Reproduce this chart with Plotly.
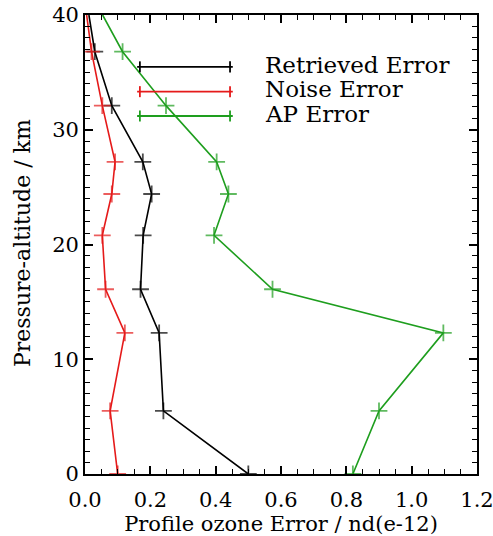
import plotly.graph_objects as go

altitude = [0.0, 5.5, 12.3, 16.1, 20.8, 24.4, 27.2, 32.1, 36.8, 40.0]
retrieved_error = [0.50, 0.24, 0.227, 0.17, 0.178, 0.204, 0.177, 0.082, 0.03, 0.012]
noise_error = [0.10, 0.077, 0.122, 0.063, 0.053, 0.082, 0.092, 0.053, 0.02, 0.005]
ap_error = [0.82, 0.90, 1.097, 0.574, 0.395, 0.439, 0.403, 0.248, 0.115, 0.054]

series_names = ["Retrieved Error", "Noise Error", "AP Error"]
series_values = [retrieved_error, noise_error, ap_error]
colors = ["#000000", "#e51a1a", "#1e9e1e"]

FONT = "DejaVu Serif"
TXT = "#000000"
msizes = [12] * (len(altitude) - 1) + [0]

fig = go.Figure()
for name, vals, c in zip(series_names, series_values, colors):
    fig.add_trace(go.Scatter(
        x=vals, y=altitude, mode="lines+markers", name=name,
        line=dict(color=c, width=1.6),
        marker=dict(symbol="cross-thin", size=msizes, line=dict(color=c, width=1.8)),
        showlegend=False, cliponaxis=True, hoverinfo="skip",
    ))

# custom legend (line with crosses at each end + text)
rows = [0.887, 0.833, 0.780]
x0, x1 = 0.133, 0.377
cx = [0.140, 0.370]
hh = 0.012
for name, c, yr in zip(series_names, colors, rows):
    fig.add_shape(type="line", xref="paper", yref="paper", x0=x0, x1=x1, y0=yr, y1=yr,
                  line=dict(color=c, width=1.8))
    for xc in cx:
        fig.add_shape(type="line", xref="paper", yref="paper", x0=xc, x1=xc, y0=yr - hh, y1=yr + hh,
                      line=dict(color=c, width=1.8))
    fig.add_annotation(text=name, xref="paper", yref="paper", x=0.455, y=yr + 0.005,
                       xanchor="left", yanchor="middle", showarrow=False,
                       font=dict(family=FONT, size=23, color=TXT))

# y-axis title
fig.add_annotation(text="Pressure-altitude / km", xref="paper", yref="paper",
                   x=-0.161, y=0.503, textangle=-90, xanchor="center", yanchor="middle",
                   showarrow=False, font=dict(family=FONT, size=22, color=TXT))

axis_common = dict(
    showline=True, linecolor="black", linewidth=1.8, mirror="ticks",
    ticks="inside", ticklen=8, tickwidth=1.6, tickcolor="black",
    showgrid=False, zeroline=False, ticklabeloverflow="allow",
    tickfont=dict(family=FONT, size=21, color=TXT),
)

fig.update_layout(
    width=493, height=536,
    margin=dict(l=85, r=16, t=15, b=62),
    paper_bgcolor="white", plot_bgcolor="white",
    hovermode=False,
    xaxis=dict(range=[0, 1.2], tickvals=[0, 0.2, 0.4, 0.6, 0.8, 1.0, 1.2],
               ticktext=["0.0", "0.2", "0.4", "0.6", "0.8", "1.0", "1.2"],
               ticklabelstandoff=6,
               minor=dict(dtick=0.05, ticks="inside", ticklen=5, tickcolor="black", tickwidth=1.4),
               title=dict(text="Profile ozone Error / nd(e-12)", standoff=0,
                          font=dict(family=FONT, size=21, color=TXT)),
               automargin=False, **axis_common),
    yaxis=dict(range=[0, 40], tickvals=[0, 10, 20, 30, 40],
               minor=dict(dtick=1, ticks="inside", ticklen=5, tickcolor="black", tickwidth=1.4),
               automargin=False, **axis_common),
)

fig.write_html("out.html", config={"displayModeBar": False},
               post_script="document.body.style.margin='0';")
